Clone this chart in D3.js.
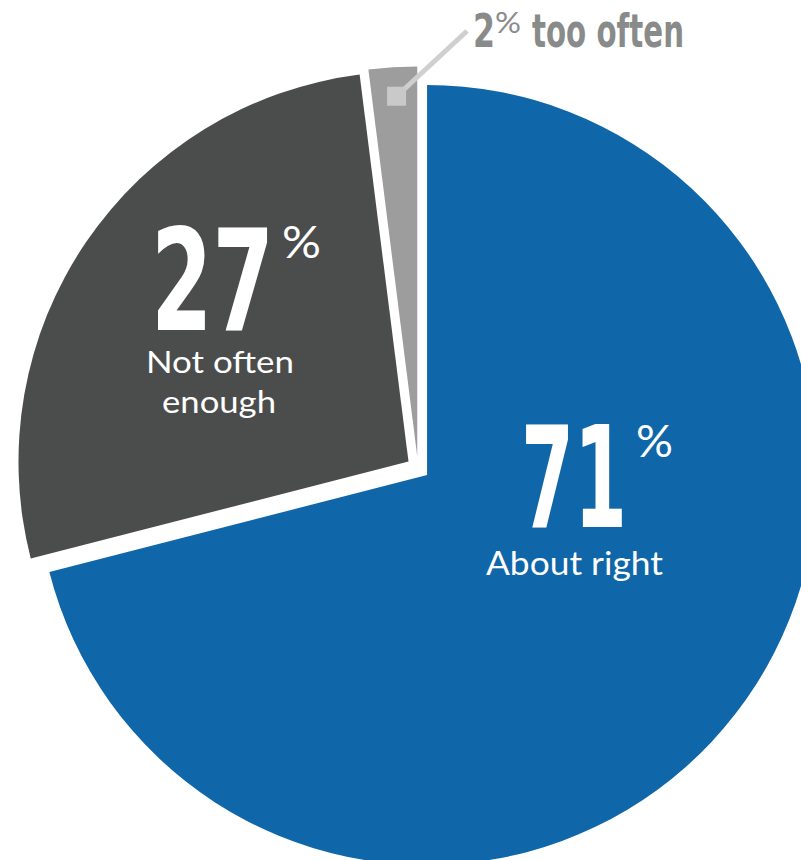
<!DOCTYPE html>
<html>
<head>
<meta charset="utf-8">
<script src="https://cdn.jsdelivr.net/npm/d3@7"></script>
<style>
  html, body { margin: 0; padding: 0; background: #fff; }
  svg { display: block; }
</style>
</head>
<body>
<svg id="chart" width="801" height="860"></svg>
<script>
// Survey answers, share of respondents (%)
const categories = ["About right", "Not often enough", "Too often"];
const values = [71, 27, 2];
const valueLabels = ["71", "27", "2"];
const captionLines = [["About right"], ["Not often", "enough"], ["too often"]];
const sliceColors = ["#0f66a8", "#4b4d4c", "#9c9d9c"];

const svg = d3.select("#chart");
const cx = 418, cy = 468;      // pie centre
const R = 390;                 // slice radius
const explode = 11.5;          // outward shift of each slice

const pie = d3.pie().sort(null).value(d => d)(values);
const arc = d3.arc().innerRadius(0).outerRadius(R);

const g = svg.append("g").attr("transform", `translate(${cx},${cy})`);

g.selectAll("path.slice")
  .data(pie)
  .join("path")
  .attr("class", "slice")
  .attr("fill", (d, i) => sliceColors[i])
  .attr("transform", d => {
    const mid = (d.startAngle + d.endAngle) / 2;
    return `translate(${Math.sin(mid) * explode},${-Math.cos(mid) * explode})`;
  })
  .attr("d", arc);

// Leader for the small slice: marker square inside the slice and a line up to its label
const small = pie[2];
const smallMid = (small.startAngle + small.endAngle) / 2;
const markerR = 361 + explode;
const mx = cx + Math.sin(smallMid) * markerR + 2;
const my = cy - Math.cos(smallMid) * markerR;

svg.append("line")
  .attr("x1", mx).attr("y1", my)
  .attr("x2", 467).attr("y2", 31)
  .attr("stroke", "#cfcfcf")
  .attr("stroke-width", 5);

svg.append("rect")
  .attr("x", mx - 9.5).attr("y", my - 9.5)
  .attr("width", 19).attr("height", 19)
  .attr("fill", "#c9c9c9");

const numFont = "'Liberation Sans Narrow', 'DejaVu Sans Condensed', 'Roboto Condensed', sans-serif";
const capFont = "Lato, 'Noto Sans', sans-serif";

// One text element per label; each part is a tspan placed absolutely and stretched to width
function addLabel(parts, fill) {
  const t = svg.append("text").attr("fill", fill);
  parts.forEach(p => {
    t.append("tspan")
      .attr("x", p.x).attr("y", p.y)
      .attr("font-family", p.family || numFont)
      .attr("font-weight", p.weight || "bold")
      .attr("font-size", p.size)
      .attr("textLength", p.len)
      .attr("lengthAdjust", "spacingAndGlyphs")
      .text(p.text);
  });
  return t;
}

// 71% About right
addLabel([
  { text: valueLabels[0], x: 521, y: 527, size: 140, len: 106 },
  { text: "%", x: 636, y: 457, size: 44, len: 37, family: capFont, weight: "normal" },
  { text: captionLines[0][0], x: 486, y: 575, size: 32, len: 177, family: capFont, weight: "normal" }
], "#fff");

// 27% Not often enough
addLabel([
  { text: valueLabels[1], x: 151, y: 330, size: 140, len: 123 },
  { text: "%", x: 282, y: 258, size: 44, len: 39, family: capFont, weight: "normal" },
  { text: captionLines[1][0], x: 146, y: 373, size: 31, len: 148, family: capFont, weight: "normal" },
  { text: captionLines[1][1], x: 162, y: 413, size: 31, len: 114, family: capFont, weight: "normal" }
], "#fff");

// 2% too often
addLabel([
  { text: valueLabels[2], x: 473, y: 47, size: 47, len: 22 },
  { text: "%", x: 495, y: 33, size: 28, len: 26, family: capFont, weight: "normal" },
  { text: captionLines[2][0], x: 532, y: 47, size: 47, len: 152 }
], "#898b8a");
</script>
</body>
</html>
